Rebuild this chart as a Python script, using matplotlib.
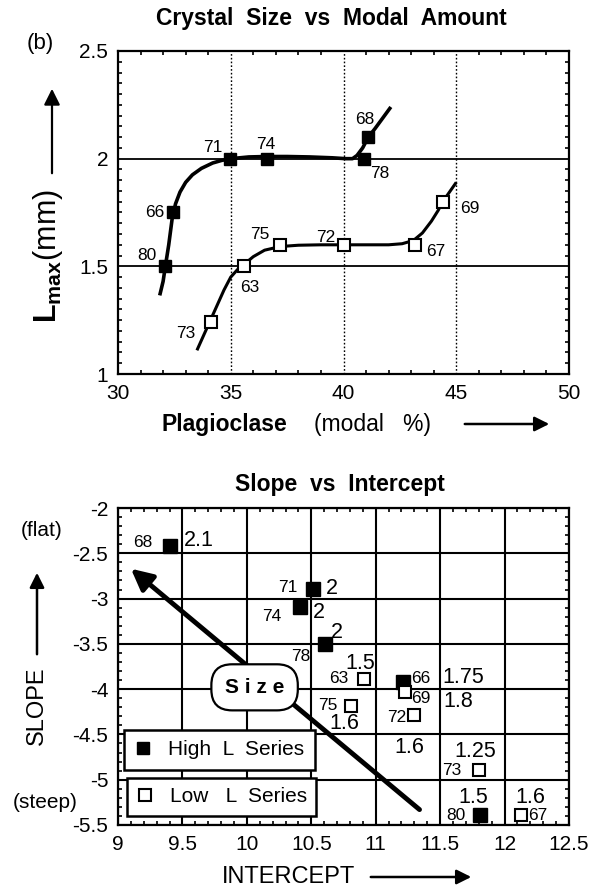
import matplotlib
matplotlib.use("Agg")
import matplotlib.pyplot as plt
from matplotlib.ticker import MultipleLocator

plt.rcParams['font.family'] = ['Liberation Sans', 'DejaVu Sans']
plt.rcParams['axes.unicode_minus'] = False
plt.rcParams['mathtext.fontset'] = 'custom'
plt.rcParams['mathtext.rm'] = 'Liberation Sans'
plt.rcParams['mathtext.bf'] = 'Liberation Sans:bold'

# ---- top panel: crystal size vs modal plagioclase ----
high_ids = ["80", "66", "71", "74", "78", "68"]
high_modal = [32.1, 32.45, 34.95, 36.6, 40.9, 41.1]
high_lmax = [1.5, 1.75, 2.0, 2.0, 2.0, 2.1]
high_lab_x = [31.3, 31.63, 34.2, 36.57, 41.6, 40.95]
high_lab_y = [1.55, 1.75, 2.05, 2.067, 1.93, 2.18]

low_ids = ["73", "63", "75", "72", "67", "69"]
low_modal = [34.12, 35.6, 37.2, 40.0, 43.15, 44.4]
low_lmax = [1.24, 1.5, 1.6, 1.6, 1.6, 1.8]
low_lab_x = [33.0, 35.84, 36.31, 39.2, 44.1, 45.6]
low_lab_y = [1.19, 1.40, 1.65, 1.635, 1.57, 1.77]

high_curve_x = [31.85, 32.0, 32.1, 32.25, 32.4, 32.55, 32.75, 33.0, 33.3, 33.7, 34.2, 34.6, 35.0,
                35.8, 36.6, 37.5, 38.5, 39.5, 40.1, 40.4, 40.6, 40.85, 41.1, 41.4, 41.75, 42.1]
high_curve_y = [1.365, 1.43, 1.5, 1.6, 1.72, 1.79, 1.845, 1.89, 1.925, 1.955, 1.98, 1.992, 2.0,
                2.008, 2.01, 2.01, 2.008, 2.004, 2.0, 2.0, 2.015, 2.05, 2.1, 2.14, 2.19, 2.24]
low_curve_x = [33.5, 33.8, 34.1, 34.4, 34.7, 35.0, 35.3, 35.6, 36.0, 36.5, 37.2, 38.0, 39.0, 40.0,
               41.0, 42.0, 42.6, 43.1, 43.5, 43.9, 44.2, 44.4, 44.7, 45.0]
low_curve_y = [1.11, 1.18, 1.25, 1.32, 1.39, 1.45, 1.485, 1.51, 1.545, 1.575, 1.592, 1.598, 1.6, 1.6,
               1.6, 1.6, 1.605, 1.62, 1.655, 1.71, 1.76, 1.8, 1.845, 1.89]

# ---- bottom panel: CSD slope vs intercept ----
hs_ids = ["68", "71", "74", "78", "66", "80"]
hs_int = [9.4, 10.51, 10.41, 10.61, 11.21, 11.81]
hs_slope = [-2.42, -2.89, -3.09, -3.5, -3.92, -5.39]
hs_size = ["2.1", "2", "2", "2", "1.75", "1.5"]
hs_id_x = [9.19, 10.32, 10.19, 10.42, 11.35, 11.62]
hs_id_y = [-2.38, -2.88, -3.2, -3.64, -3.88, -5.39]
hs_size_x = [9.63, 10.66, 10.56, 10.7, 11.68, 11.76]
hs_size_y = [-2.36, -2.89, -3.15, -3.38, -3.87, -5.2]

ls_ids = ["63", "75", "69", "72", "73", "67"]
ls_int = [10.91, 10.81, 11.23, 11.3, 11.8, 12.13]
ls_slope = [-3.89, -4.19, -4.03, -4.29, -4.89, -5.39]
ls_size = ["1.5", "1.6", "1.8", "1.6", "1.25", "1.6"]
ls_id_x = [10.71, 10.63, 11.35, 11.16, 11.59, 12.26]
ls_id_y = [-3.88, -4.18, -4.1, -4.31, -4.9, -5.39]
ls_size_x = [10.88, 10.76, 11.64, 11.26, 11.77, 12.2]
ls_size_y = [-3.72, -4.38, -4.14, -4.64, -4.69, -5.2]

W, H = 592, 891
fig = plt.figure(figsize=(W / 100, H / 100), dpi=100)


def fx(px):
    return px / W


def fy(py):
    return 1 - py / H


def style_axes(ax):
    for s in ax.spines.values():
        s.set_linewidth(1.6)
    ax.tick_params(which='both', direction='in', top=True, right=True)
    ax.tick_params(which='major', length=0, labelsize=15, pad=7)
    ax.tick_params(which='minor', length=3, width=1.2)


# top axes
ax1 = fig.add_axes([fx(118), fy(374), fx(569) - fx(118), fy(51) - fy(374)])
ax1.set_xlim(30, 50)
ax1.set_ylim(1, 2.5)
ax1.set_xticks([30, 35, 40, 45, 50])
ax1.set_yticks([1, 1.5, 2, 2.5])
ax1.set_yticklabels(["1", "1.5", "2", "2.5"])
ax1.xaxis.set_minor_locator(MultipleLocator(1))
ax1.yaxis.set_minor_locator(MultipleLocator(0.05))
style_axes(ax1)
for yv in [1.5, 2.0]:
    ax1.axhline(yv, color='k', lw=1.3, zorder=1)
for xv in [35, 40, 45]:
    ax1.axvline(xv, color='k', lw=1.0, ls=(0, (1.2, 1.5)), zorder=1)

ax1.plot(high_curve_x, high_curve_y, color='k', lw=2.6, zorder=2, solid_capstyle='butt')
ax1.plot(low_curve_x, low_curve_y, color='k', lw=2.2, zorder=2, solid_capstyle='butt')
ax1.plot(high_modal, high_lmax, 's', ms=9, color='k', zorder=3)
ax1.plot(low_modal, low_lmax, 's', ms=9, mfc='white', mec='k', mew=1.5, zorder=3)
for t, x, y in zip(high_ids, high_lab_x, high_lab_y):
    ax1.text(x, y, t, fontsize=12.5, ha='center', va='center')
for t, x, y in zip(low_ids, low_lab_x, low_lab_y):
    ax1.text(x, y, t, fontsize=12.5, ha='center', va='center')

fig.text(fx(331), fy(19), "Crystal  Size  vs  Modal  Amount", fontsize=16.5, fontweight='bold',
         ha='center', va='center')
fig.text(fx(40), fy(44), "(b)", fontsize=16, ha='center', va='center')
fig.text(fx(48), fy(256), r"$\mathbf{L}_{\mathbf{max}}$(mm)", fontsize=22, rotation=90,
         ha='center', va='center')
fig.add_artist(matplotlib.patches.FancyArrowPatch((fx(52), fy(176)), (fx(52), fy(86)),
               transform=fig.transFigure, arrowstyle='-|>', mutation_scale=24, lw=1.6, color='k'))
fig.text(fx(161), fy(424), "Plagioclase", fontsize=16.5, fontweight='bold', ha='left', va='center')
fig.text(fx(314), fy(424), "(modal   %)", fontsize=16.5, ha='left', va='center')
fig.add_artist(matplotlib.patches.FancyArrowPatch((fx(462), fy(424)), (fx(552), fy(424)),
               transform=fig.transFigure, arrowstyle='-|>', mutation_scale=22, lw=1.8, color='k'))

# bottom axes
ax2 = fig.add_axes([fx(118), fy(825), fx(569) - fx(118), fy(508) - fy(825)])
ax2.set_xlim(9, 12.5)
ax2.set_ylim(-5.5, -2)
ax2.set_xticks([9, 9.5, 10, 10.5, 11, 11.5, 12, 12.5])
ax2.set_xticklabels(["9", "9.5", "10", "10.5", "11", "11.5", "12", "12.5"])
ax2.set_yticks([-5.5, -5, -4.5, -4, -3.5, -3, -2.5, -2])
ax2.set_yticklabels(["-5.5", "-5", "-4.5", "-4", "-3.5", "-3", "-2.5", "-2"])
ax2.xaxis.set_minor_locator(MultipleLocator(0.1))
ax2.yaxis.set_minor_locator(MultipleLocator(0.1))
style_axes(ax2)
ax2.grid(True, which='major', color='k', lw=1.5, zorder=0)
ax2.set_axisbelow(True)

ax2.plot(hs_int, hs_slope, 's', ms=9.5, color='k', zorder=3)
ax2.plot(ls_int, ls_slope, 's', ms=9, mfc='white', mec='k', mew=1.5, zorder=3)
for t, x, y in zip(hs_ids, hs_id_x, hs_id_y):
    ax2.text(x, y, t, fontsize=12.5, ha='center', va='center')
for t, x, y in zip(ls_ids, ls_id_x, ls_id_y):
    ax2.text(x, y, t, fontsize=12.5, ha='center', va='center')
for t, x, y in zip(hs_size, hs_size_x, hs_size_y):
    ax2.text(x, y, t, fontsize=15.5, ha='center', va='center')
for t, x, y in zip(ls_size, ls_size_x, ls_size_y):
    ax2.text(x, y, t, fontsize=15.5, ha='center', va='center')

ax2.annotate('', xy=(9.1, -2.67), xytext=(11.34, -5.33),
             arrowprops=dict(arrowstyle='-|>', lw=3.5, mutation_scale=32, color='k',
                             shrinkA=0, shrinkB=0), zorder=4)
ax2.text(10.06, -3.98, "S i z e", fontsize=15, fontweight='bold', ha='center', va='center', zorder=5,
         bbox=dict(boxstyle='round,pad=0.65,rounding_size=1.0', fc='white', ec='k', lw=1.6))

h_high, = ax2.plot([], [], 's', ms=8, color='k', label="High  L  Series")
h_low, = ax2.plot([], [], 's', ms=8, mfc='white', mec='k', mew=1.5, label="Low   L  Series")
leg1 = ax2.legend(handles=[h_high], loc='upper left', bbox_to_anchor=(0.014, 0.3), fontsize=15,
                  frameon=True, fancybox=False, framealpha=1, edgecolor='k', handlelength=0.8,
                  handletextpad=0.8, borderpad=0.5, borderaxespad=0)
leg1.get_frame().set_linewidth(1.8)
leg1.set_zorder(6)
ax2.add_artist(leg1)
leg2 = ax2.legend(handles=[h_low], loc='upper left', bbox_to_anchor=(0.02, 0.149), fontsize=15,
                  frameon=True, fancybox=False, framealpha=1, edgecolor='k', handlelength=0.8,
                  handletextpad=0.8, borderpad=0.45, borderaxespad=0)
leg2.get_frame().set_linewidth(1.8)
leg2.set_zorder(6)

fig.text(fx(340), fy(485), "Slope  vs  Intercept", fontsize=16.5, fontweight='bold',
         ha='center', va='center')
fig.text(fx(37), fy(706), "SLOPE", fontsize=17, rotation=90, ha='center', va='center')
fig.add_artist(matplotlib.patches.FancyArrowPatch((fx(37), fy(657)), (fx(37), fy(570)),
               transform=fig.transFigure, arrowstyle='-|>', mutation_scale=22, lw=1.8, color='k'))
fig.text(fx(42), fy(530), "(flat)", fontsize=15, ha='center', va='center')
fig.text(fx(45), fy(802), "(steep)", fontsize=15, ha='center', va='center')
fig.text(fx(288), fy(877), "INTERCEPT", fontsize=17, ha='center', va='center')
fig.add_artist(matplotlib.patches.FancyArrowPatch((fx(368), fy(877)), (fx(474), fy(877)),
               transform=fig.transFigure, arrowstyle='-|>', mutation_scale=22, lw=1.8, color='k'))

fig.savefig("out.png", dpi=100)
